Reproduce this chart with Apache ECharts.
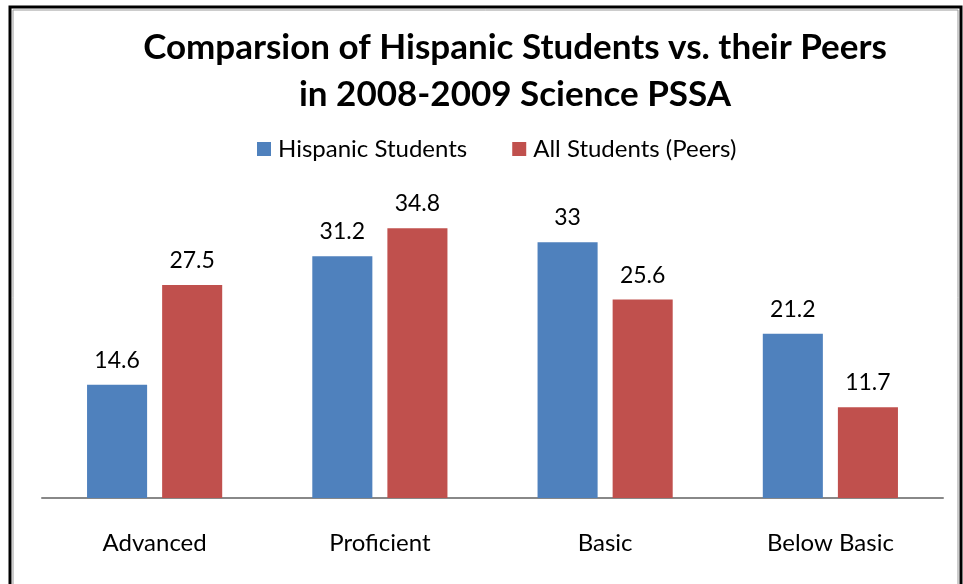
<!DOCTYPE html>
<html><head><meta charset="utf-8">
<script src="https://cdn.jsdelivr.net/npm/echarts@6/dist/echarts.min.js"></script>
<style>html,body{margin:0;padding:0;background:#fff}#c{width:963px;height:584px}</style>
</head><body><div id="c"></div>
<script>
const categories = ['Advanced', 'Proficient', 'Basic', 'Below Basic'];
const hispanic = [14.6, 31.2, 33, 21.2];
const allStudents = [27.5, 34.8, 25.6, 11.7];
const seriesNames = ['Hispanic Students', 'All Students (Peers)'];
const titleText = 'Comparsion of Hispanic Students vs. their Peers\nin 2008-2009 Science PSSA';

const chart = echarts.init(document.getElementById('c'));
const font = 'Lato, "Open Sans", sans-serif';
chart.setOption({
  animation: false,
  backgroundColor: '#fff',
  graphic: [
    {type: 'rect', shape: {x: 10, y: 7, width: 951, height: 600}, style: {fill: 'none', stroke: '#000', lineWidth: 3}},
    {type: 'rect', shape: {x: 13, y: 10, width: 945, height: 600}, style: {fill: 'none', stroke: '#999', lineWidth: 1}},
    {type: 'text', x: 515, y: 24, style: {text: titleText, x: 0, y: 0, textAlign: 'center', textVerticalAlign: 'top',
      font: 'bold 35px ' + font, fill: '#000', lineHeight: 47}}
  ],
  legend: {
    top: 132, left: 252, itemWidth: 14, itemHeight: 14, itemGap: 45,
    icon: 'rect',
    textStyle: {fontFamily: font, fontSize: 24, color: '#000', padding: [0, 0, 0, 2]},
    data: seriesNames
  },
  grid: {left: 42, right: 20, top: 188, bottom: 86},
  xAxis: {
    type: 'category', data: categories,
    axisLine: {lineStyle: {color: '#888', width: 2}},
    axisTick: {show: false},
    axisLabel: {fontFamily: font, fontSize: 24, color: '#000', margin: 33}
  },
  yAxis: {type: 'value', min: 0, max: 40, show: false, splitLine: {show: false}},
  series: [
    {name: seriesNames[0], type: 'bar', data: hispanic, barGap: '25%', barCategoryGap: '40%',
     itemStyle: {color: '#4F81BD'},
     label: {show: true, position: 'top', distance: 13, fontFamily: font, fontSize: 23, color: '#000'}},
    {name: seriesNames[1], type: 'bar', data: allStudents,
     itemStyle: {color: '#C0504D'},
     label: {show: true, position: 'top', distance: 13, fontFamily: font, fontSize: 23, color: '#000'}}
  ]
});
</script></body></html>
